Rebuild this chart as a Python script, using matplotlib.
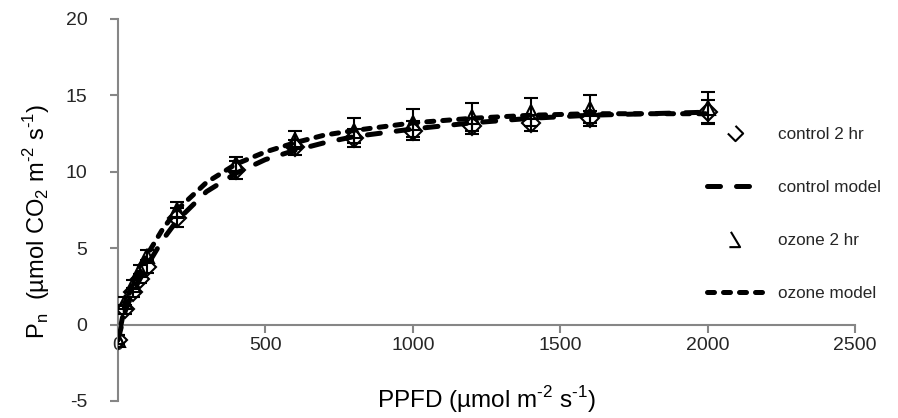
"""light response curves, control vs ozone"""

import matplotlib
matplotlib.use('Agg')
import matplotlib.pyplot as plt
from matplotlib.lines import Line2D
from matplotlib.path import Path

plt.rcParams['font.family'] = ['Liberation Sans', 'DejaVu Sans']
plt.rcParams['mathtext.fontset'] = 'custom'
plt.rcParams['mathtext.rm'] = 'Liberation Sans'
plt.rcParams['axes.unicode_minus'] = False

# measured points
ppfd = [0, 25, 50, 75, 100, 200, 400, 600, 800, 1000, 1200, 1400, 1600, 2000]
control_pn = [-1.0, 1.0, 2.1, 3.0, 3.8, 7.0, 10.1, 11.6, 12.2, 12.7, 13.0, 13.2, 13.5, 13.9]
control_err = [0.3, 0.3, 0.3, 0.3, 0.4, 0.6, 0.6, 0.5, 0.6, 0.6, 0.5, 0.5, 0.5, 0.8]
ozone_pn = [-1.0, 1.5, 2.6, 3.6, 4.5, 7.5, 10.5, 12.1, 12.7, 13.2, 13.6, 13.9, 14.1, 14.2]
ozone_err = [0.3, 0.3, 0.3, 0.3, 0.4, 0.5, 0.5, 0.6, 0.8, 0.9, 0.9, 0.9, 0.9, 1.0]

# fitted model curves
model_ppfd = [0, 25, 50, 75, 100, 150, 200, 300, 400, 500, 600, 700, 800, 1000, 1200, 1400, 1600, 1800, 2000]
control_model = [-1.0, 0.9, 2.1, 3.0, 3.9, 5.5, 6.8, 8.7, 9.9, 10.8, 11.4, 11.9, 12.3, 12.8, 13.2, 13.5, 13.7, 13.8, 13.9]
ozone_model = [-1.0, 1.4, 2.6, 3.7, 4.6, 6.2, 7.5, 9.3, 10.5, 11.3, 11.9, 12.4, 12.7, 13.2, 13.5, 13.7, 13.8, 13.8, 13.8]

axis_grey = '#868686'
text_col = '#262626'
long_dash = (0, (2.6, 3.2))
short_dash = (0, (1.4, 1.8))
hy = '\u2010'  # plain hyphen in superscripts, like the original

fig = plt.figure(figsize=(8.98, 4.18), dpi=100)
ax = fig.add_axes([0.1314, 0.0407, 0.8207, 0.9139])

# data with error bars
ax.errorbar(ppfd, control_pn, yerr=control_err, fmt='D', ms=9, mfc='none', mec='black',
            mew=1.5, ecolor='black', elinewidth=1.5, capsize=5, capthick=2, zorder=3)
ax.errorbar(ppfd, ozone_pn, yerr=ozone_err, fmt='^', ms=10, mfc='none', mec='black',
            mew=1.5, ecolor='black', elinewidth=1.5, capsize=5, capthick=2, zorder=3)

# model lines
ax.plot(model_ppfd, control_model, color='black', lw=3.6, ls=long_dash,
        dash_capstyle='round', zorder=4)
ax.plot(model_ppfd, ozone_model, color='black', lw=3.6, ls=short_dash,
        dash_capstyle='round', zorder=4)

ax.set_xlim(0, 2500)
ax.set_ylim(-5, 20)
ax.set_xticks([0, 500, 1000, 1500, 2000, 2500])
ax.set_yticks([-5, 0, 5, 10, 15, 20])

for s in ['top', 'right']:
    ax.spines[s].set_visible(False)
ax.spines['bottom'].set_position(('data', 0))
for s in ['left', 'bottom']:
    ax.spines[s].set_color(axis_grey)
    ax.spines[s].set_linewidth(1.5)
ax.tick_params(axis='both', colors=axis_grey, length=6, width=1.5, labelsize=14,
               labelcolor=text_col)
ax.tick_params(axis='y', pad=16)
ax.tick_params(axis='x', pad=3)

ax.set_xlabel(f'PPFD (µmol m$^{{\\mathregular{{{hy}2}}}}$ s$^{{\\mathregular{{{hy}1}}}}$)',
              fontsize=17.5, color='black')
ax.xaxis.set_label_coords(0.5, 0.045)
ax.set_ylabel(f'P$_{{\\mathregular{{n}}}}$  (µmol CO$_{{\\mathregular{{2}}}}$ '
              f'm$^{{\\mathregular{{{hy}2}}}}$ s$^{{\\mathregular{{{hy}1}}}}$)',
              fontsize=17, color='black')
ax.yaxis.set_label_coords(-0.09, 0.47)

# legend markers look clipped in the original
half_diamond = Path([(-1, 0), (0, -1), (1, 0), (0, 1)],
                    [Path.MOVETO, Path.LINETO, Path.LINETO, Path.LINETO])
half_triangle = Path([(-0.6, 1), (0.6, -1), (-0.8, -1)],
                     [Path.MOVETO, Path.LINETO, Path.LINETO])
handles = [
    Line2D([], [], ls='none', marker=half_diamond, ms=11, mfc='none', mec='black', mew=1.5),
    Line2D([], [], color='black', lw=3.6, ls=long_dash, dash_capstyle='round'),
    Line2D([], [], ls='none', marker=half_triangle, ms=11, mfc='none', mec='black', mew=1.5),
    Line2D([], [], color='black', lw=3.6, ls=short_dash, dash_capstyle='round'),
]
labels = ['control 2 hr', 'control model', 'ozone 2 hr', 'ozone model']
ax.legend(handles, labels, loc='upper left', bbox_to_anchor=(0.778, 0.757), frameon=False,
          fontsize=12.3, labelspacing=2.22, handlelength=3.3, handletextpad=0.9,
          labelcolor=text_col)

fig.savefig('out.png', dpi=100)
